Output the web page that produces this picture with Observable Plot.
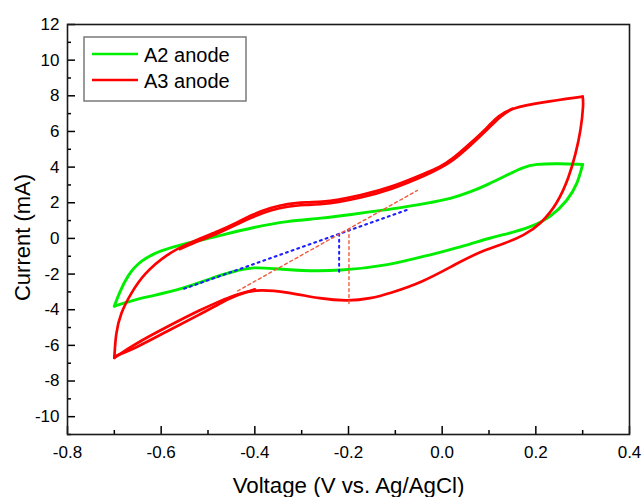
<!DOCTYPE html>
<html><head><meta charset="utf-8">
<script src="https://cdn.jsdelivr.net/npm/d3@7"></script>
<script src="https://cdn.jsdelivr.net/npm/@observablehq/plot@0.6"></script>
<style>
body{margin:0;background:#fff}
#chart{position:relative;width:644px;height:497px}
</style>
</head><body><div id="chart"></div>
<script>
const seriesNames = ["A2 anode", "A3 anode"];
const seriesColors = ["#00ee00", "#ff0000"];

// A2 anode: forward (anodic) sweep, voltage (V) and current (mA)
const a2ForwardV = [-0.700,-0.690,-0.672,-0.644,-0.601,-0.551,-0.516,-0.473,-0.402,-0.331,-0.259,-0.188,-0.153,-0.103,-0.031,0.018,0.062,0.098,0.138,0.172,0.200,0.250,0.300];
const a2ForwardI = [-3.80,-3.09,-2.07,-1.23,-0.67,-0.30,-0.11,0.17,0.63,0.98,1.12,1.36,1.50,1.66,1.98,2.22,2.62,3.03,3.55,3.99,4.18,4.20,4.15];
// A2 anode: reverse (cathodic) sweep
const a2ReverseV = [0.300,0.289,0.268,0.232,0.189,0.140,0.104,0.040,-0.031,-0.113,-0.220,-0.300,-0.360,-0.400,-0.445,-0.500,-0.551,-0.623,-0.658,-0.700];
const a2ReverseI = [4.15,3.06,2.13,1.19,0.63,0.26,0.05,-0.49,-0.95,-1.51,-1.83,-1.82,-1.70,-1.60,-1.83,-2.30,-2.80,-3.25,-3.45,-3.80];

// A3 anode, cycle 1: forward sweep
const a3ForwardV = [-0.700,-0.697,-0.687,-0.665,-0.637,-0.587,-0.537,-0.473,-0.445,-0.402,-0.366,-0.331,-0.290,-0.255,-0.224,-0.174,-0.110,-0.031,-0.006,0.018,0.063,0.097,0.120,0.148,0.211,0.300];
const a3ForwardI = [-6.70,-5.33,-4.21,-3.10,-1.98,-0.86,-0.21,0.45,0.80,1.38,1.72,1.95,2.03,2.05,2.15,2.41,2.85,3.71,4.00,4.36,5.40,6.23,6.90,7.30,7.63,7.95];
// A3 anode, cycle 1: reverse sweep
const a3ReverseV = [0.300,0.302,0.296,0.285,0.271,0.246,0.211,0.175,0.132,0.087,0.030,-0.041,-0.113,-0.153,-0.200,-0.259,-0.331,-0.400,-0.445,-0.473,-0.516,-0.587,-0.658,-0.700];
const a3ReverseI = [7.95,7.54,6.04,4.74,3.43,1.94,0.82,0.17,-0.30,-0.67,-1.42,-2.45,-3.09,-3.37,-3.52,-3.40,-3.00,-2.84,-3.19,-3.50,-4.00,-4.95,-5.95,-6.70];
// A3 anode, later cycle (visible where the cycles separate)
const a3Cycle2FwdV = [-0.560,-0.537,-0.473,-0.402,-0.366,-0.331,-0.290,-0.255,-0.224,-0.174,-0.110,-0.031,0.018,0.063,0.097,0.125,0.150];
const a3Cycle2FwdI = [-0.60,-0.32,0.33,1.25,1.58,1.80,1.88,1.92,2.02,2.28,2.72,3.58,4.22,5.28,6.12,6.88,7.28];
const a3Cycle2RevV = [-0.400,-0.445,-0.473,-0.516,-0.587,-0.658,-0.700];
const a3Cycle2RevI = [-2.86,-3.25,-3.62,-4.25,-5.20,-6.20,-6.62];

// Construction lines (peak baselines and drops)
const a2BaselineV = [-0.551, -0.074];
const a2BaselineI = [-2.82, 1.61];
const a2DropV = [-0.220, -0.220];
const a2DropI = [0.26, -1.88];
const a3BaselineV = [-0.437, -0.053];
const a3BaselineI = [-2.95, 2.69];
const a3DropV = [-0.199, -0.199];
const a3DropI = [0.55, -3.66];

const xMajorTicks = [-0.8,-0.6,-0.4,-0.2,0.0,0.2,0.4];
const xMinorTicks = [-0.7,-0.5,-0.3,-0.1,0.1,0.3];
const yMajorTicks = [-10,-8,-6,-4,-2,0,2,4,6,8,10,12];
const yMinorTicks = [-11,-9,-7,-5,-3,-1,1,3,5,7,9,11];
const xLabel = "Voltage (V vs. Ag/AgCl)";
const yLabel = "Current (mA)";

function pts(vs, is, series, branch) {
  return vs.map((v, k) => ({v, i: is[k], series, key: series + branch}));
}
const curvesA2 = [
  ...pts(a2ForwardV, a2ForwardI, seriesNames[0], "f"),
  ...pts(a2ReverseV, a2ReverseI, seriesNames[0], "r")
];
const curvesA3 = [
  ...pts(a3ForwardV, a3ForwardI, seriesNames[1], "f"),
  ...pts(a3ReverseV, a3ReverseI, seriesNames[1], "r"),
  ...pts(a3Cycle2FwdV, a3Cycle2FwdI, seriesNames[1], "f2"),
  ...pts(a3Cycle2RevV, a3Cycle2RevI, seriesNames[1], "r2")
];
const blueGuides = [...pts(a2BaselineV, a2BaselineI, "g", "b"), ...pts(a2DropV, a2DropI, "g", "d")];
const redGuides = [...pts(a3BaselineV, a3BaselineI, "r", "b"), ...pts(a3DropV, a3DropI, "r", "d")];

const W = 644, H = 497, mL = 67, mR = 15, mT = 24, mB = 63;
const innerW = W - mL - mR, innerH = H - mT - mB;
const font = "'Liberation Sans', Arial, Helvetica, sans-serif";

const chart = Plot.plot({
  width: W, height: H,
  marginLeft: mL, marginRight: mR, marginTop: mT, marginBottom: mB,
  style: {fontFamily: font, fontSize: "17px", color: "#000", background: "#fff"},
  x: {domain: [-0.8, 0.4], axis: null},
  y: {domain: [-11, 12], axis: null},
  color: {domain: seriesNames, range: seriesColors},
  marks: [
    Plot.line(curvesA2, {x: "v", y: "i", z: "key", stroke: "series", strokeWidth: 2.9, curve: "basis"}),
    Plot.line(curvesA3, {x: "v", y: "i", z: "key", stroke: "series", strokeWidth: 2.7, curve: "basis"}),
    Plot.line(blueGuides, {x: "v", y: "i", z: "key", stroke: "#1e1eff", strokeWidth: 2, strokeDasharray: "2,4"}),
    Plot.line(redGuides, {x: "v", y: "i", z: "key", stroke: "#f05a3c", strokeWidth: 1.4, strokeDasharray: "3,3"}),
    Plot.ruleX(xMajorTicks, {x: d => d, insetTop: innerH - 8, stroke: "#000", strokeWidth: 1.5}),
    Plot.ruleX(xMinorTicks, {x: d => d, insetTop: innerH - 4, stroke: "#000", strokeWidth: 1.5}),
    Plot.ruleY(yMajorTicks, {y: d => d, insetRight: innerW - 8, stroke: "#000", strokeWidth: 1.5}),
    Plot.ruleY(yMinorTicks, {y: d => d, insetRight: innerW - 4, stroke: "#000", strokeWidth: 1.5}),
    Plot.axisX(xMajorTicks, {tickSize: 0, tickPadding: 11, tickFormat: d => d.toFixed(1), fontSize: 17, label: null}),
    Plot.axisY(yMajorTicks, {tickSize: 0, tickPadding: 8, tickFormat: d => String(d), fontSize: 17, label: null}),
    Plot.frame({stroke: "#1a1a1a", strokeWidth: 1.6}),
    Plot.text([xLabel], {text: d => d, frameAnchor: "bottom", textAnchor: "middle", dy: 58, lineAnchor: "bottom", fontSize: 22.3}),
    Plot.text([yLabel], {text: d => d, frameAnchor: "left", textAnchor: "middle", dx: -45, dy: 8, rotate: -90, fontSize: 22})
  ]
});
document.getElementById("chart").appendChild(chart);

// legend
const svg = d3.select(chart);
const lg = svg.append("g").attr("font-family", font).attr("font-size", 20).attr("text-anchor", "start");
lg.append("rect").attr("x", 84).attr("y", 37).attr("width", 162).attr("height", 64)
  .attr("fill", "#fff").attr("stroke", "#7a7a7a").attr("stroke-width", 1.5);
seriesNames.forEach((name, k) => {
  const y = 54 + k * 26;
  lg.append("line").attr("x1", 92).attr("x2", 138).attr("y1", y).attr("y2", y)
    .attr("stroke", seriesColors[k]).attr("stroke-width", 2.6);
  lg.append("text").attr("x", 144).attr("y", y + 7.5).attr("fill", "#000").attr("text-anchor", "start").text(name);
});
</script>
</body></html>
